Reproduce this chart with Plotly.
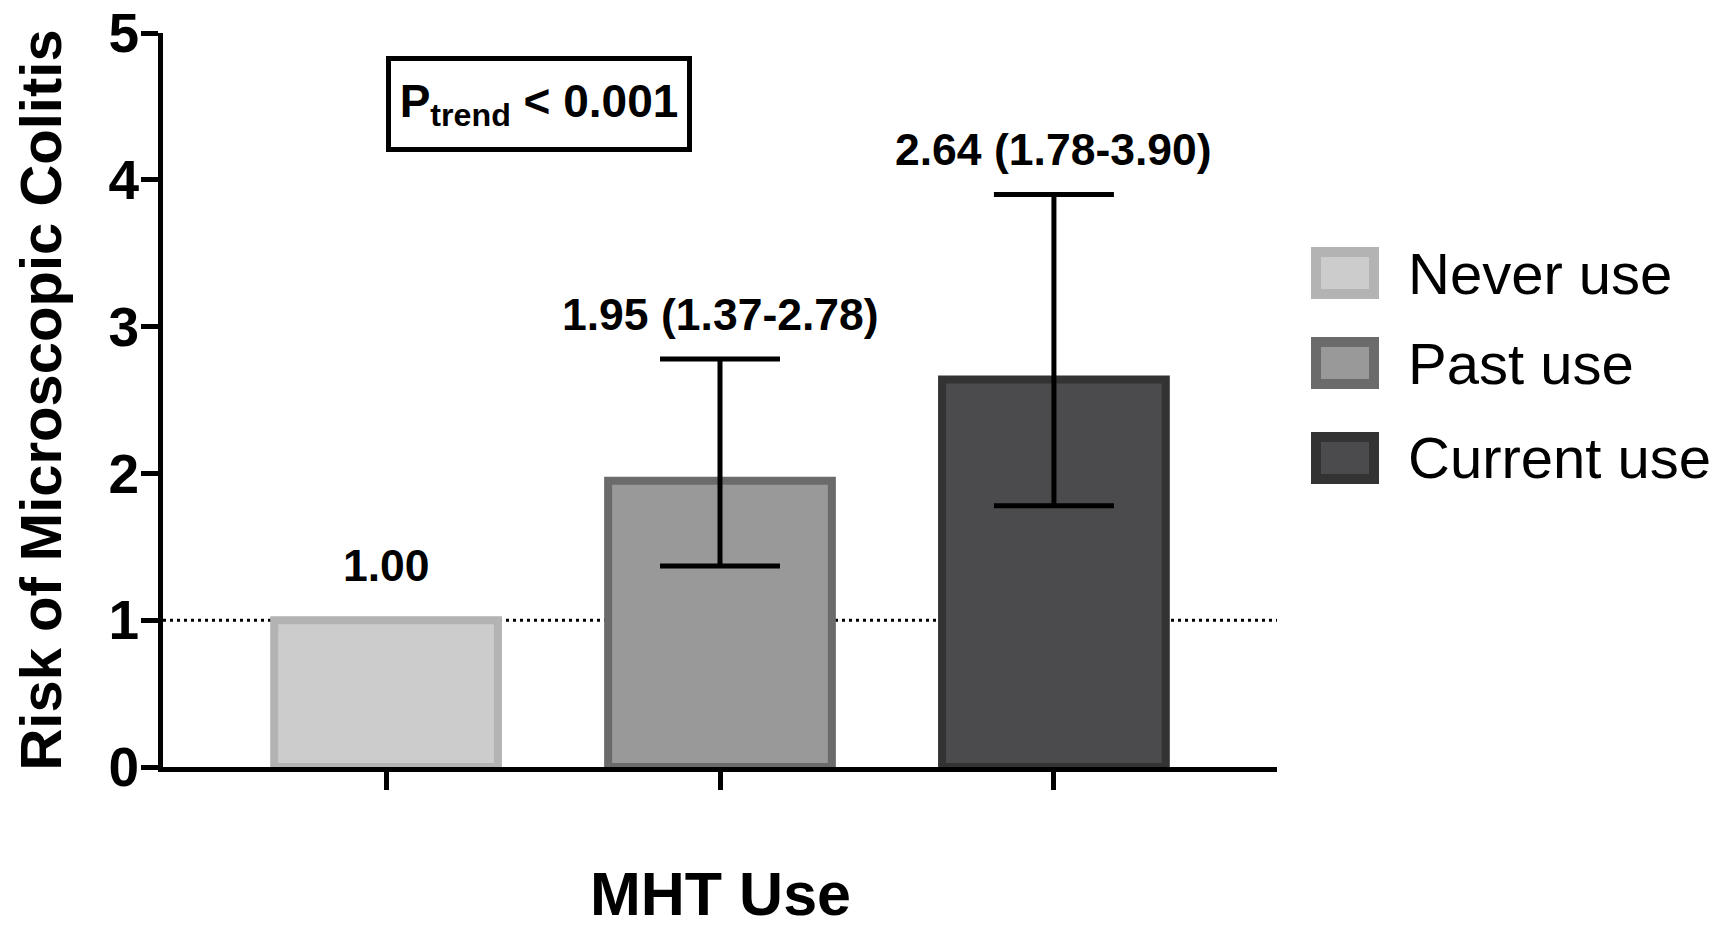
import plotly.graph_objects as go

# ---------------- data ----------------
categories = ["Never use", "Past use", "Current use"]
risk = [1.00, 1.95, 2.64]
ci_low = [1.00, 1.37, 1.78]
ci_high = [1.00, 2.78, 3.90]
value_labels = ["1.00", "1.95 (1.37-2.78)", "2.64 (1.78-3.90)"]
fill_colors = ["#CCCCCC", "#999999", "#4B4A4C"]
line_colors = ["#B3B3B3", "#6B6B6B", "#333333"]
y_ticks = [0, 1, 2, 3, 4, 5]
p_trend_text = "P<sub>trend</sub> < 0.001"
x_title = "MHT Use"
y_title = "Risk of Microscopic Colitis"

W, H = 1731, 932
ML, MR, MT, MB = 163, 454, 33, 165
PW, PH = W - ML - MR, H - MT - MB

FONT = "Liberation Sans, Arial, Helvetica, sans-serif"

fig = go.Figure()
xs = list(range(len(categories)))
for i, cat in enumerate(categories):
    has_ci = ci_high[i] != ci_low[i]
    fig.add_trace(go.Bar(
        x=[xs[i]], y=[risk[i]], name=cat, width=0.67,
        marker=dict(color=fill_colors[i], line=dict(color=line_colors[i], width=8)),
        error_y=dict(type="data", symmetric=False,
                     array=[ci_high[i] - risk[i]], arrayminus=[risk[i] - ci_low[i]],
                     color="black", thickness=5, width=60, visible=has_ci),
        showlegend=False,
    ))
    fig.add_annotation(x=xs[i], y=ci_high[i], xref="x", yref="y", text=value_labels[i],
                       showarrow=False, yanchor="bottom", yshift=28 if not has_ci else 18,
                       font=dict(family=FONT, size=44.5, color="black", weight="bold"))

# reference line at 1
fig.add_shape(type="line", xref="x domain", yref="y", x0=0, x1=1, y0=1, y1=1,
              line=dict(color="black", width=3, dash="3px,4px"), layer="below")

# P trend box
fig.add_annotation(xref="paper", yref="paper", x=(539 - ML) / PW, y=(MT + PH - 104) / PH,
                   text=p_trend_text, showarrow=False, xanchor="center", yanchor="middle",
                   width=292, height=82, borderpad=2, borderwidth=5, bordercolor="black",
                   bgcolor="white",
                   font=dict(family=FONT, size=46, color="black", weight="bold"))

# x-axis title (placed below the axis)
fig.add_annotation(xref="x domain", yref="paper", x=0.5, y=(MT + PH - 894) / PH,
                   text=x_title, showarrow=False, xanchor="center", yanchor="middle",
                   font=dict(family=FONT, size=61, color="black", weight="bold"))

# manual legend
def px_x(px):
    return (px - ML) / PW

def px_y(py):
    return (MT + PH - py) / PH

leg_x0, leg_sw_w, leg_sw_h = 1316, 58, 42
leg_centers = [273, 363, 458]
for i, cat in enumerate(categories):
    cy = leg_centers[i]
    fig.add_shape(type="rect", xref="paper", yref="paper",
                  x0=px_x(leg_x0), x1=px_x(leg_x0 + leg_sw_w),
                  y0=px_y(cy + leg_sw_h / 2), y1=px_y(cy - leg_sw_h / 2),
                  fillcolor=fill_colors[i], line=dict(color=line_colors[i], width=10))
    fig.add_annotation(xref="paper", yref="paper", x=px_x(1406), y=px_y(cy),
                       text=cat, showarrow=False, xanchor="left", yanchor="middle",
                       font=dict(family=FONT, size=58, color="black"))

fig.update_layout(
    width=W, height=H,
    margin=dict(l=ML, r=MR, t=MT, b=MB, autoexpand=False),
    plot_bgcolor="white", paper_bgcolor="white",
    xaxis=dict(range=[-0.668, 2.668], tickvals=xs, showticklabels=False,
               ticks="outside", ticklen=18, tickwidth=5, tickcolor="black",
               showline=True, linewidth=5, linecolor="black", showgrid=False, zeroline=False),
    yaxis=dict(range=[0, 5], tickvals=y_ticks, ticks="outside", ticklen=17, tickwidth=5,
               tickcolor="black", showline=True, linewidth=5, linecolor="black",
               showgrid=False, zeroline=False, ticklabelstandoff=-9,
               tickfont=dict(family=FONT, size=55, color="black", weight="bold"),
               title=dict(text=y_title, standoff=30,
                          font=dict(family=FONT, size=58, color="black", weight="bold"))),
)

fig.write_html("out.html")
